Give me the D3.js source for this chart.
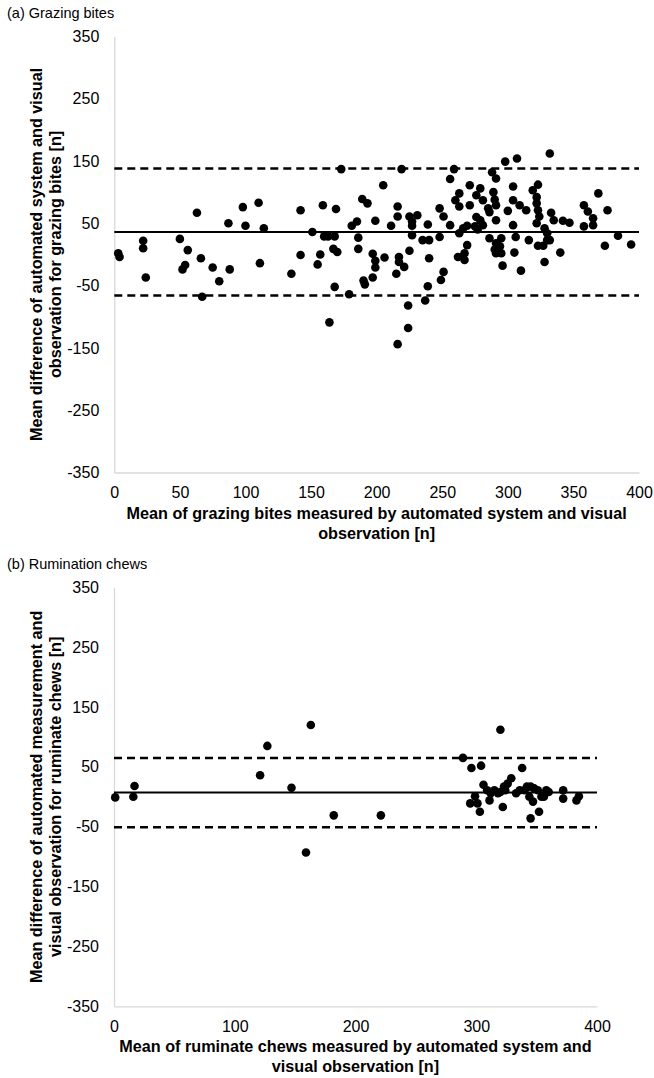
<!DOCTYPE html>
<html>
<head>
<meta charset="utf-8">
<script src="https://cdn.jsdelivr.net/npm/d3@7"></script>
<style>
  body { margin: 0; background: #fff; }
  svg text { font-family: "Liberation Sans", Arial, sans-serif; fill: #000; }
  .panel-title { font-family: "Liberation Sans Narrow", "Arial Narrow", "Liberation Sans", sans-serif; font-size: 14.5px; }
  .axis text { font-size: 16px; }
  .axis path { stroke: #d9d9d9; stroke-width: 1.3; }
  .axis-title { font-size: 16.2px; font-weight: bold; }
</style>
</head>
<body>
<svg id="chart" width="654" height="1078"></svg>
<script>
// tick values
var diffTicks = [-350, -250, -150, -50, 50, 150, 250, 350];
var grazingTicks = [0, 50, 100, 150, 200, 250, 300, 350, 400];
var ruminationTicks = [0, 100, 200, 300, 400];

// (a) grazing bites: mean of both methods / difference
var grazingMean = [
  3, 4, 22, 22, 24, 50, 56, 54, 52, 63, 66, 67, 75, 80, 87, 88, 98, 100, 110, 114, 111,
  135, 142, 142, 151, 159, 157, 155, 160, 163, 168, 169, 167, 170, 168, 164, 173,
  179, 181, 185, 186, 186, 189, 193, 190, 191, 199, 197, 199, 199, 197,
  205, 206, 211, 216, 216, 219, 215, 217, 217, 221, 225, 224, 224, 216,
  225, 227, 231, 227, 227, 235, 240, 239, 240, 239, 237,
  248, 251, 256, 248, 251, 249, 256, 259, 263, 260, 263,
  269, 266, 263, 269, 267, 262, 267,
  271, 276, 271, 279, 281, 276, 279, 275, 277, 281,
  285, 286, 291, 290, 289, 288, 291, 298, 307, 291,
  286, 295, 291, 294, 290, 291, 295, 296,
  300, 304, 304, 304, 306, 305, 310, 309, 314, 316,
  319, 323, 322, 322, 323, 324, 322,
  323, 327, 330, 332, 330, 328, 328, 332,
  333, 335, 340, 342, 347,
  358, 361, 365, 365, 358, 369, 376, 374, 384, 394
];
var grazingDiff = [
  2, -4, 22, 10, -37, 25, 7, -17, -24, 67, -6, -68, -21, -43, 50, -24, 76, 46, 83, 42, -14,
  -31, 71, -1, 36, 79, 0, -16, 29, 29, 29, 73, 9, 4, -52, -109, 137,
  -64, 46, 53, 27, 9, 89, 82, -42, -48, 54, 1, -10, -21, -37,
  111, -5, 46, 77, 61, 137, -31, -4, -12, -20, 6, -82, -118, -144,
  61, 53, 63, 46, 31, 23, 23, 48, -6, -51, -74,
  74, 61, 47, 28, -28, -41, 121, 137, 98, 87, 77,
  46, 42, 34, 15, 2, -4, -9,
  111, 95, 79, 106, 87, 60, 55, 45, 40, 47,
  74, 68, 79, 88, 100, 132, 122, 149, 154, 55,
  26, 26, 18, 13, 8, 2, 2, -18,
  70, 109, 87, 47, 28, 3, -26, 79, 71, 23,
  103, 112, 92, 82, 71, 61, 50,
  14, 14, 23, 23, 34, 42, -12, 162,
  67, 55, 3, 54, 51,
  79, 69, 58, 47, 45, 98, 71, 14, 30, 16
];
var grazingBias = 36;
var grazingLimits = [138, -66];

// (b) rumination chews
var ruminationMean = [
  1, 16, 17, 121, 127, 147, 163, 159, 182, 221,
  289, 296, 304, 338, 320, 306, 309, 312, 311, 295, 301, 303, 299,
  315, 318, 320, 323, 326, 329, 324, 322,
  333, 336, 340, 342, 345, 348, 351, 344, 347, 345, 352, 354,
  358, 360, 356, 372, 372, 383, 385
];
var ruminationDiff = [
  -1, 0, 18, 36, 85, 15, 120, -93, -31, -31,
  65, 48, 52, 48, 112, 20, 11, 6, -6, -11, -11, -25, 1,
  11, 6, 8, 17, 22, 31, 11, -17,
  6, 11, 11, 17, 17, 14, 11, 0, -8, -36, -25, 0,
  11, 8, 0, 11, -3, -6, 1
];
var ruminationBias = 7;
var ruminationLimits = [65, -51];

var svg = d3.select('#chart');

// plain hyphen for negatives, like the source spreadsheet
var tick_fmt = d => String(d);

function draw_panel(opts) {
  var b = opts.box;

  var x = d3.scaleLinear().domain([0, 400]).range([b.left, b.right]);
  var y = d3.scaleLinear().domain([-350, 350]).range([b.bottom, b.top]);

  var g = svg.append('g').attr('class', 'panel');

  g.append('text')
    .attr('class', 'panel-title')
    .attr('x', 7)
    .attr('y', opts.titleY)
    .text(opts.title);

  g.append('g')
    .attr('class', 'axis y-axis')
    .attr('transform', `translate(${ b.left }, 0)`)
    .call(d3.axisLeft(y)
          .tickValues(diffTicks)
          .tickFormat(tick_fmt)
          .tickSize(0)
          .tickPadding(15));

  g.append('g')
    .attr('class', 'axis x-axis')
    .attr('transform', `translate(0, ${ b.bottom })`)
    .call(d3.axisBottom(x)
          .tickValues(opts.xTicks)
          .tickFormat(tick_fmt)
          .tickSize(0)
          .tickPadding(14));

  // bias and limits of agreement
  g.append('line')
    .attr('x1', x(0)).attr('x2', x(400))
    .attr('y1', y(opts.bias)).attr('y2', y(opts.bias))
    .attr('stroke', '#000')
    .attr('stroke-width', 2);

  g.selectAll('line.loa')
    .data(opts.limits)
    .enter().append('line')
    .attr('class', 'loa')
    .attr('x1', x(0)).attr('x2', x(400))
    .attr('y1', d => y(d)).attr('y2', d => y(d))
    .attr('stroke', '#000')
    .attr('stroke-width', 2.5)
    .attr('stroke-dasharray', '8,5');

  g.selectAll('circle')
    .data(opts.xs)
    .enter().append('circle')
    .attr('cx', d => x(d))
    .attr('cy', (d, i) => y(opts.ys[i]))
    .attr('r', 4.3)
    .attr('fill', '#000');

  // axis titles
  var cx = (b.left + b.right) / 2;
  opts.xTitle.forEach((t, i) => {
    g.append('text')
      .attr('class', 'axis-title')
      .attr('text-anchor', 'middle')
      .attr('x', cx)
      .attr('y', b.bottom + 46 + 20 * i)
      .text(t);
  });

  var cy = (b.top + b.bottom) / 2;
  opts.yTitle.forEach((t, i) => {
    g.append('text')
      .attr('class', 'axis-title')
      .attr('text-anchor', 'middle')
      .attr('transform', `translate(${ 42 + 19 * i }, ${ cy }) rotate(-90)`)
      .text(t);
  });
}

draw_panel({
  title: '(a) Grazing bites',
  titleY: 18,
  box: { left: 114.3, right: 639, top: 36.4, bottom: 472.5 },
  xTicks: grazingTicks,
  xs: grazingMean,
  ys: grazingDiff,
  bias: grazingBias,
  limits: grazingLimits,
  xTitle: ['Mean of grazing bites measured by automated system and visual', 'observation [n]'],
  yTitle: ['Mean difference of automated system and visual', 'observation for grazing bites [n]']
});

draw_panel({
  title: '(b) Rumination chews',
  titleY: 569,
  box: { left: 114, right: 597, top: 587.3, bottom: 1006.3 },
  xTicks: ruminationTicks,
  xs: ruminationMean,
  ys: ruminationDiff,
  bias: ruminationBias,
  limits: ruminationLimits,
  xTitle: ['Mean of ruminate chews measured by automated system and', 'visual observation [n]'],
  yTitle: ['Mean difference of automated measurement and', 'visual observation for ruminate chews [n]']
});
</script>
</body>
</html>
